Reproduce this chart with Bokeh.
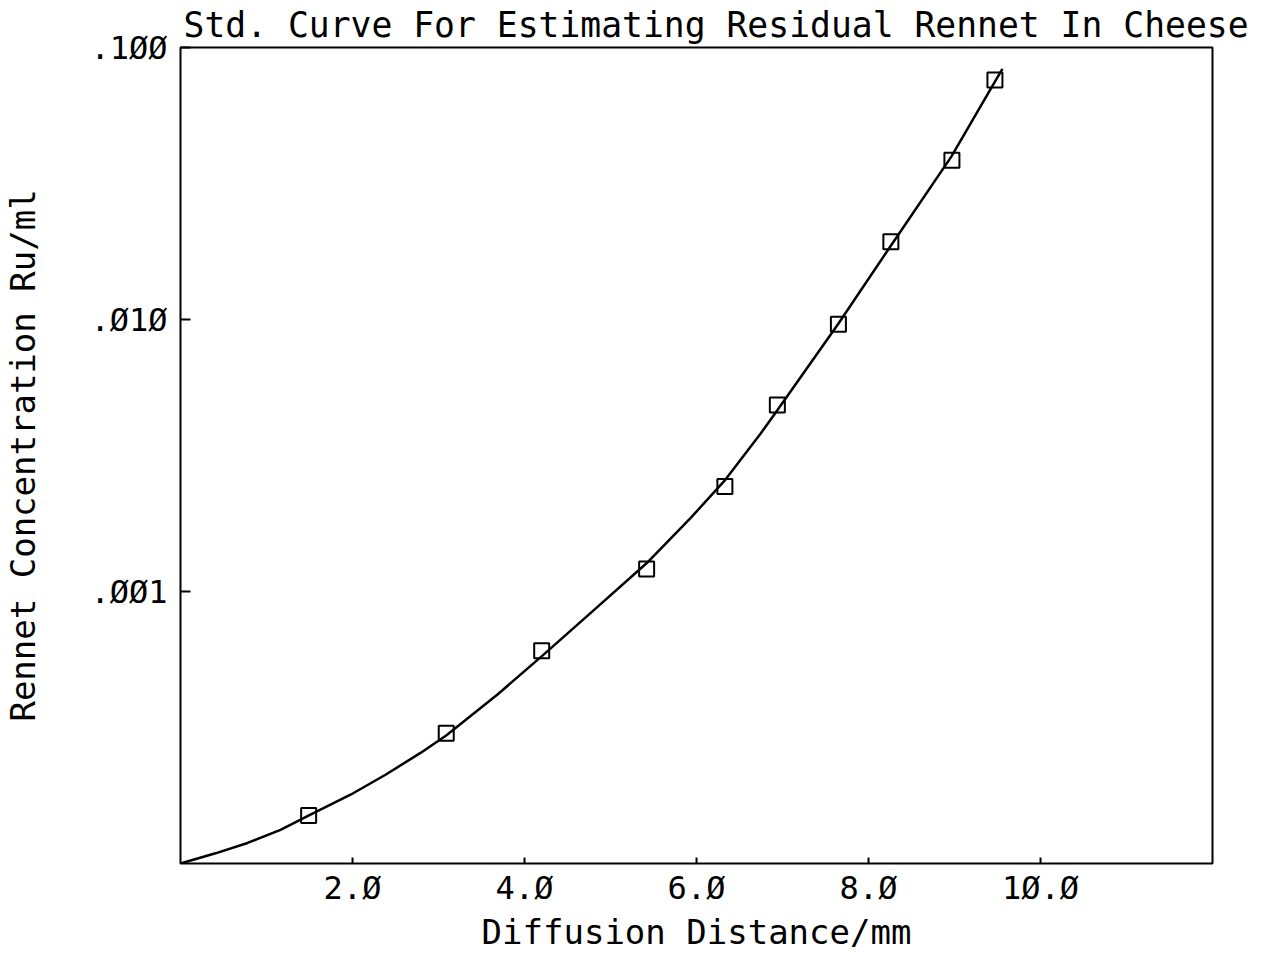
from bokeh.plotting import figure
from bokeh.models import FixedTicker, Range1d, Title
from bokeh.embed import file_html
from bokeh.resources import INLINE

dist_mm = [1.49, 3.09, 4.20, 5.42, 6.33, 6.94, 7.65, 8.26, 8.97, 9.47]
rennet_ru_ml = [1.50e-4, 3.01e-4, 6.06e-4, 1.21e-3, 2.43e-3, 4.85e-3, 9.6e-3, 1.93e-2, 3.85e-2, 7.6e-2]

# Fitted standard curve
curve_x = [0.000, 0.407, 0.779, 1.163, 1.488, 1.977, 2.384, 2.791, 3.093, 3.686, 4.209,
           4.849, 5.419, 5.930, 6.337, 6.744, 6.942, 7.651, 8.256, 8.965, 9.477, 9.558]
curve_y = [1.00e-4, 1.09e-4, 1.19e-4, 1.33e-4, 1.50e-4, 1.79e-4, 2.12e-4, 2.55e-4, 2.96e-4,
           4.18e-4, 5.81e-4, 8.78e-4, 1.27e-3, 1.86e-3, 2.58e-3, 3.80e-3, 4.65e-3, 9.67e-3,
           1.86e-2, 3.98e-2, 7.55e-2, 8.35e-2]

x_ticks = [2, 4, 6, 8, 10]
x_tick_labels = ["2.Ø", "4.Ø", "6.Ø", "8.Ø", "1Ø.Ø"]
y_ticks = [0.001, 0.01, 0.1]
y_tick_labels = [".ØØ1", ".Ø1Ø", ".1ØØ"]

title_text = "Std. Curve For Estimating Residual Rennet In Cheese"
x_label = "Diffusion Distance/mm"
y_label = "Rennet Concentration Ru/ml"

FONT = "DejaVu Sans Mono"

p = figure(width=1268, height=951, output_backend="svg", toolbar_location=None,
           y_axis_type="log", x_range=Range1d(0, 12), y_range=Range1d(1e-4, 1e-1),
           title=title_text,
           min_border_left=172, min_border_right=56, min_border_bottom=0, min_border_top=0)

p.title.align = "left"
p.title.offset = 3
p.title.text_font = FONT
p.title.text_font_size = "34.7px"
p.title.text_font_style = "normal"
p.title.text_color = "black"
p.title.standoff = 5

p.background_fill_color = "white"
p.border_fill_color = "white"
p.outline_line_color = "black"
p.outline_line_width = 2
p.xgrid.visible = False
p.ygrid.visible = False

p.line(curve_x, curve_y, line_color="black", line_width=2.5)
p.scatter(dist_mm, rennet_ru_ml, marker="square", size=15, fill_color=None,
          line_color="black", line_width=2)

xa = p.xaxis[0]
xa.ticker = FixedTicker(ticks=x_ticks, minor_ticks=[])
xa.major_label_overrides = {t: l for t, l in zip(x_ticks, x_tick_labels)}
xa.axis_label = None
xa.axis_label_standoff = 0

ya = p.yaxis[0]
ya.ticker = FixedTicker(ticks=y_ticks, minor_ticks=[])
ya.major_label_overrides = {t: l for t, l in zip(y_ticks, y_tick_labels)}
ya.axis_label = y_label

for ax in (xa, ya):
    ax.axis_line_color = None
    ax.major_tick_out = 0
    ax.minor_tick_out = 0
    ax.minor_tick_in = 0
    ax.major_tick_line_color = "black"
    ax.major_tick_line_width = 2
    ax.major_label_text_font = FONT
    ax.major_label_text_font_size = "32px"
    ax.major_label_text_color = "black"
    ax.axis_label_text_font = FONT
    ax.axis_label_text_font_size = "34px"
    ax.axis_label_text_font_style = "normal"
    ax.axis_label_text_color = "black"

xa.major_tick_in = 6
xa.major_label_standoff = 5
ya.major_tick_in = 10
ya.major_label_standoff = 13
ya.axis_label_standoff = 44

# x-axis title as a title panel below the axis (compact text box)
p.add_layout(Title(text=x_label, align="center", text_font=FONT, text_font_size="34px",
                   text_font_style="normal", text_color="black", standoff=0), "below")

open("out.html", "w").write(file_html(p, INLINE))
